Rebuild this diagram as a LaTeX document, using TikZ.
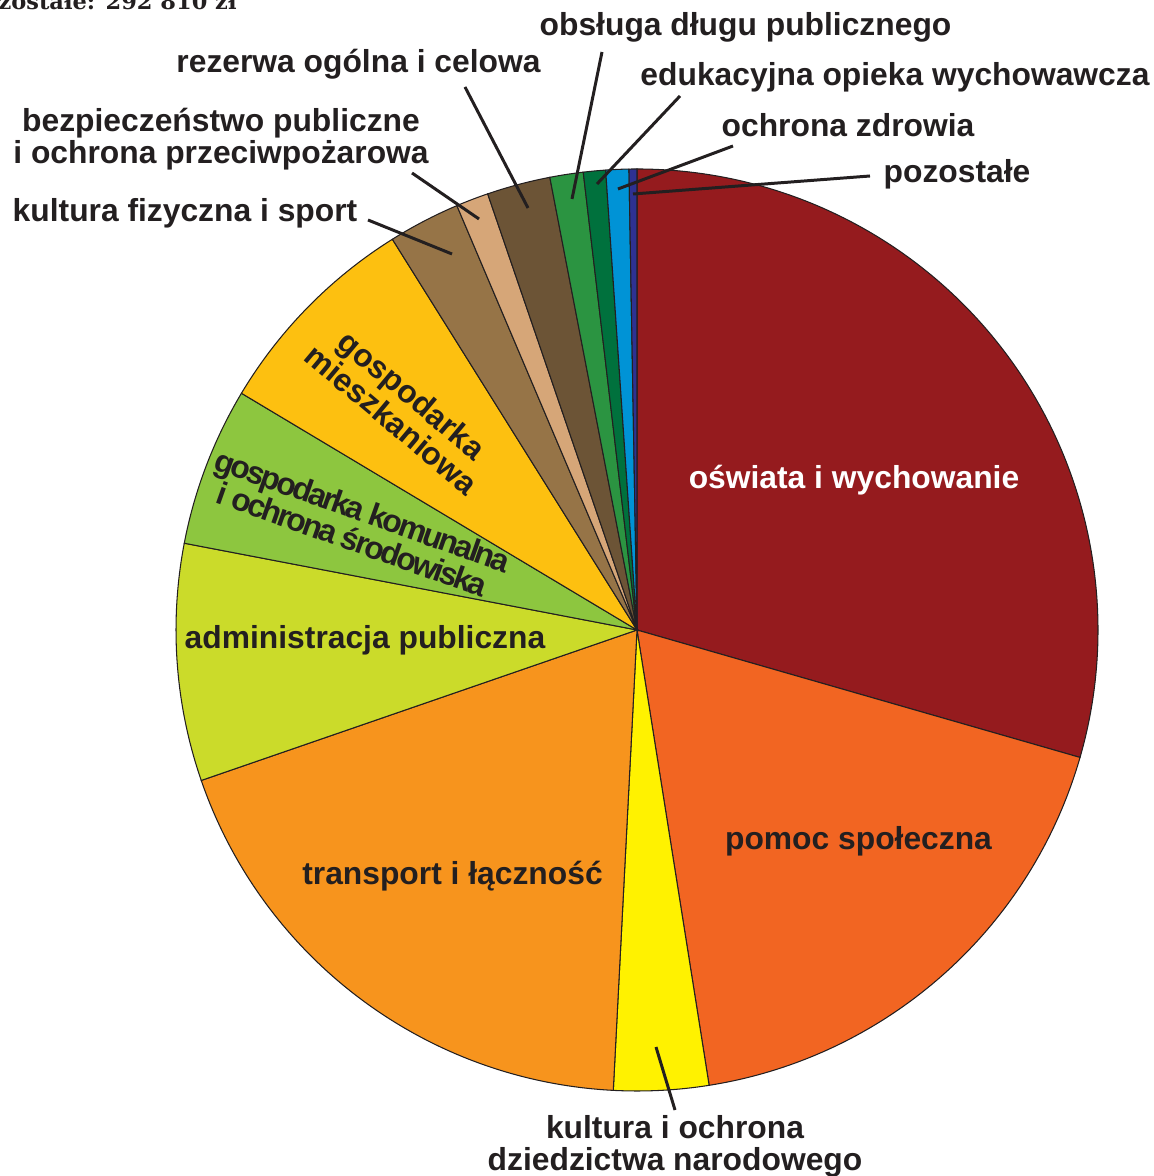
\documentclass[tikz,border=0pt]{standalone}
\usepackage{fontspec}
\setmainfont{Liberation Sans}
\newfontfamily\sumfont{DejaVu Serif}
\usepackage{tikz}
\definecolor{ink}{HTML}{231F20}
\definecolor{oswiata}{HTML}{951B1E}
\definecolor{pomoc}{HTML}{F26522}
\definecolor{dziedzictwo}{HTML}{FFF200}
\definecolor{transport}{HTML}{F7941D}
\definecolor{administracja}{HTML}{CBDB2A}
\definecolor{komunalna}{HTML}{8DC63F}
\definecolor{mieszkaniowa}{HTML}{FDC010}
\definecolor{sport}{HTML}{967447}
\definecolor{bezpieczenstwo}{HTML}{D6A678}
\definecolor{rezerwa}{HTML}{6C5436}
\definecolor{dlug}{HTML}{2B9441}
\definecolor{edukacja}{HTML}{00713D}
\definecolor{zdrowie}{HTML}{0093D6}
\definecolor{pozostale}{HTML}{2E3192}
\setlength{\lineskiplimit}{-50pt}
\tikzstyle{slice} = [draw=ink, line width=0.6pt]
\tikzstyle{lbl} = [text=ink, inner sep=0pt, font=\fontsize{18.1pt}{18.2pt}\selectfont\bfseries]
\tikzstyle{tightlbl} = [lbl, font=\fontsize{18.1pt}{17.6pt}\selectfont\bfseries\addfontfeature{LetterSpace=-8}]
\tikzstyle{sumlbl} = [text=ink, inner sep=0pt, font={\sumfont\bfseries\fontsize{12.8pt}{14pt}\selectfont}]
\tikzstyle{line} = [draw=ink, line width=1.7pt]

\begin{document}
\begin{tikzpicture}[x=0.02cm, y=0.02cm]
        \useasboundingbox (0,0) rectangle (1153,1176);
        \coordinate (C) at (637,546);

        % Draw slices
        \filldraw[slice, fill=oswiata] (C) -- +(343.95:461) arc (343.95:450:461) -- cycle;
        \filldraw[slice, fill=pomoc] (C) -- +(279:461) arc (279:343.95:461) -- cycle;
        \filldraw[slice, fill=dziedzictwo] (C) -- +(267.05:461) arc (267.05:279:461) -- cycle;
        \filldraw[slice, fill=transport] (C) -- +(199.05:461) arc (199.05:267.05:461) -- cycle;
        \filldraw[slice, fill=administracja] (C) -- +(169.15:461) arc (169.15:199.05:461) -- cycle;
        \filldraw[slice, fill=komunalna] (C) -- +(149.1:461) arc (149.1:169.15:461) -- cycle;
        \filldraw[slice, fill=mieszkaniowa] (C) -- +(122.05:461) arc (122.05:149.1:461) -- cycle;
        \filldraw[slice, fill=sport] (C) -- +(113:461) arc (113:122.05:461) -- cycle;
        \filldraw[slice, fill=bezpieczenstwo] (C) -- +(108.9:461) arc (108.9:113:461) -- cycle;
        \filldraw[slice, fill=rezerwa] (C) -- +(100.9:461) arc (100.9:108.9:461) -- cycle;
        \filldraw[slice, fill=dlug] (C) -- +(96.7:461) arc (96.7:100.9:461) -- cycle;
        \filldraw[slice, fill=edukacja] (C) -- +(93.9:461) arc (93.9:96.7:461) -- cycle;
        \filldraw[slice, fill=zdrowie] (C) -- +(91:461) arc (91:93.9:461) -- cycle;
        \filldraw[slice, fill=pozostale] (C) -- +(90:461) arc (90:91:461) -- cycle;

        % Place labels
        \node at (237,1166) [sumlbl, anchor=base east] (suma) {Pozostałe: 292 810 zł};
        \node at (745.5,1140) [lbl, anchor=base] (dluglbl) {obsługa długu publicznego};
        \node at (358.5,1103) [lbl, anchor=base] (rezerwalbl) {rezerwa ogólna i celowa};
        \node at (895,1090) [lbl, anchor=base] (edukacjalbl) {edukacyjna opieka wychowawcza};
        \node at (848,1039) [lbl, anchor=base] (zdrowielbl) {ochrona zdrowia};
        \node at (957,993) [lbl, anchor=base] (pozostalelbl) {pozostałe};
        \node at (221,1036.5) [lbl, align=center] (bezplbl) {bezpieczeństwo publiczne\\i ochrona przeciwpożarowa};
        \node at (185,954) [lbl, anchor=base] (sportlbl) {kultura fizyczna i sport};
        \node at (854,687) [lbl, anchor=base, text=white] (oswiatalbl) {oświata i wychowanie};
        \node at (858.5,326) [lbl, anchor=base] (pomoclbl) {pomoc społeczna};
        \node at (452.5,291) [lbl, anchor=base] (transportlbl) {transport i łączność};
        \node at (365,527) [lbl, anchor=base] (adminlbl) {administracja publiczna};
        \node at (675,29.5) [lbl, align=center] (dziedzictwolbl) {kultura i ochrona\\dziedzictwa narodowego};
        \node at (402,769) [lbl, align=center, rotate=-40] (mieszklbl) {gospodarka\\mieszkaniowa};
        \node at (357.5,651) [tightlbl, align=center, rotate=-19.5] (komunlbl) {gospodarka komunalna\\i ochrona środowiska};

        % Leader ends
        \coordinate (pozostale-in) at (633,982);
        \coordinate (pozostale-out) at (870,1000);
        \coordinate (zdrowie-in) at (618,987);
        \coordinate (zdrowie-out) at (733,1030);
        \coordinate (edukacja-in) at (597,992);
        \coordinate (edukacja-out) at (680,1080);
        \coordinate (dlug-in) at (572,977);
        \coordinate (dlug-out) at (602,1124);
        \coordinate (rezerwa-in) at (528,968);
        \coordinate (rezerwa-out) at (465,1089);
        \coordinate (bezp-in) at (479,957);
        \coordinate (bezp-out) at (412,1003);
        \coordinate (sport-in) at (452,922);
        \coordinate (sport-out) at (368,956);
        \coordinate (dziedzictwo-in) at (656,129);
        \coordinate (dziedzictwo-out) at (675,66);

        % Draw leaders
        \path [line] (pozostale-in) -- (pozostale-out);
        \path [line] (zdrowie-in) -- (zdrowie-out);
        \path [line] (edukacja-in) -- (edukacja-out);
        \path [line] (dlug-in) -- (dlug-out);
        \path [line] (rezerwa-in) -- (rezerwa-out);
        \path [line] (bezp-in) -- (bezp-out);
        \path [line] (sport-in) -- (sport-out);
        \path [line] (dziedzictwo-in) -- (dziedzictwo-out);
\end{tikzpicture}
\end{document}
